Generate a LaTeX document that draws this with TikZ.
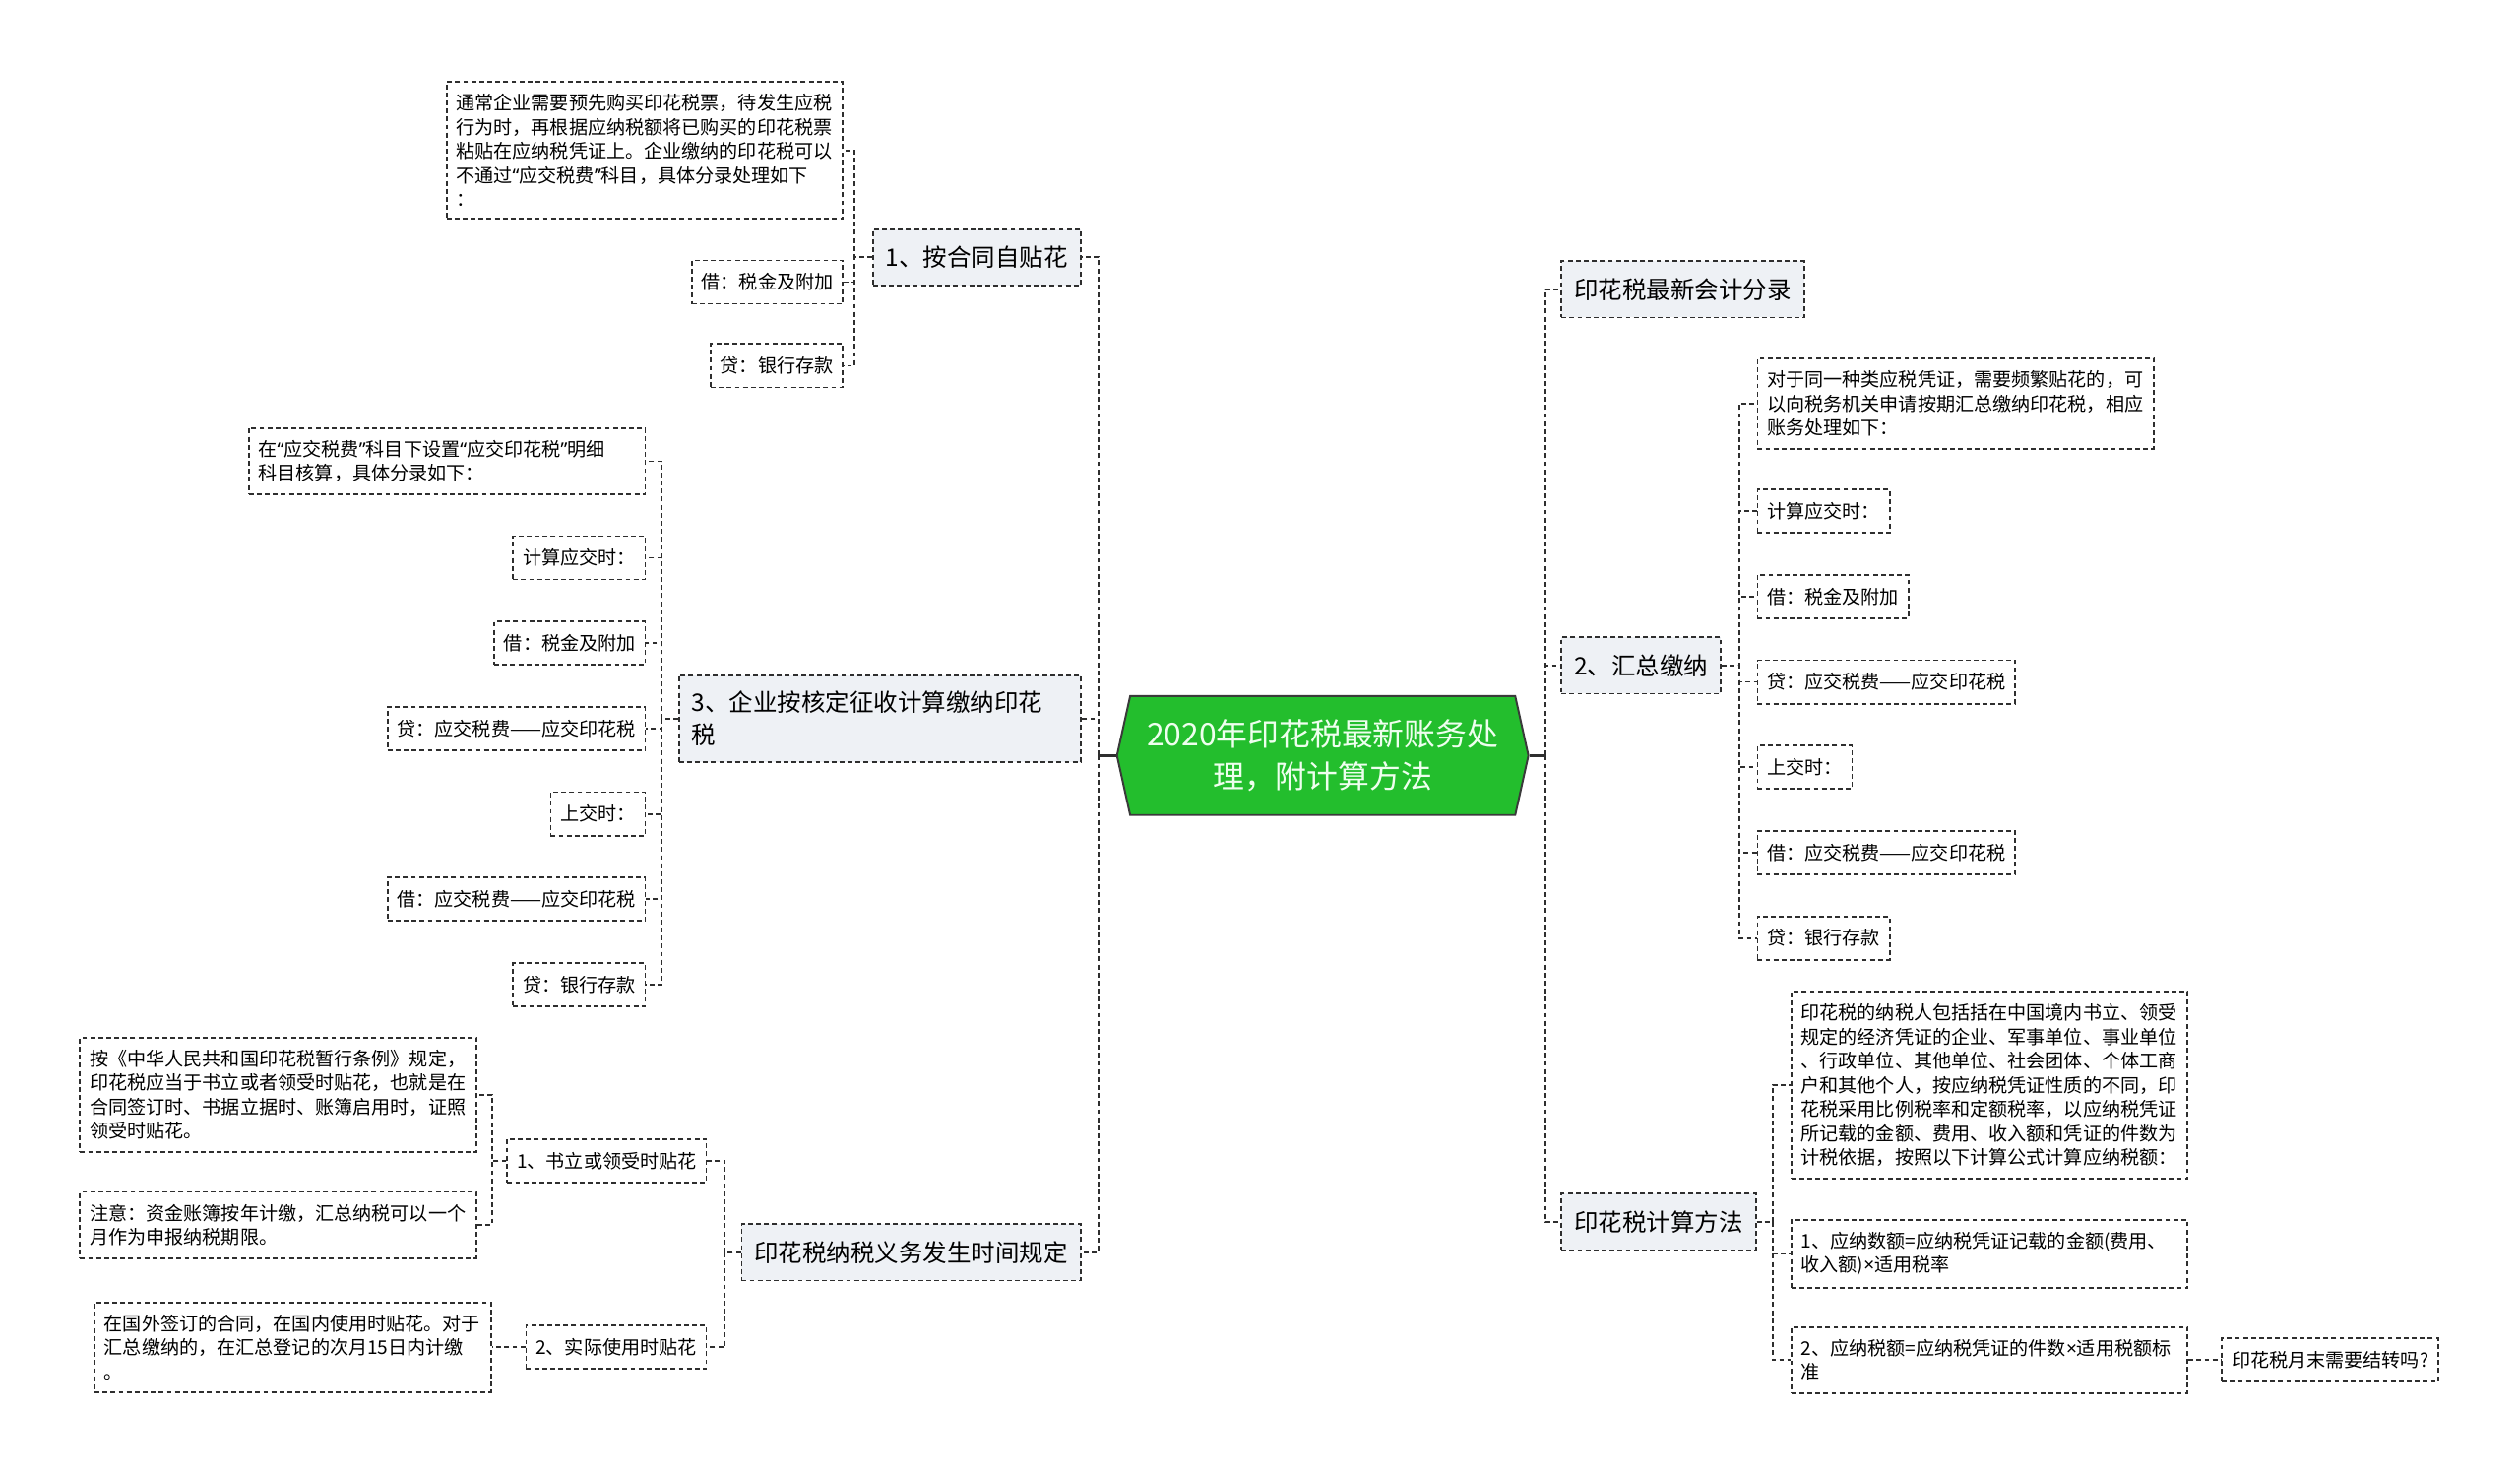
\documentclass[tikz,border=0pt]{standalone}
\usepackage{fontspec}
\setmainfont{Noto Sans CJK SC}
\newfontfamily\latinfont{Noto Sans}
\usetikzlibrary{positioning,shapes.symbols}

\definecolor{linegray}{HTML}{2E2E2E}
\definecolor{topicfill}{HTML}{EEF1F5}
\definecolor{rootfill}{HTML}{23BE2D}
\definecolor{rootedge}{HTML}{3A3A3A}
\definecolor{roottext}{HTML}{EEFFEE}

\newcommand\leafsize{\fontsize{11.7pt}{15pt}\selectfont}
\newcommand\topicsize{\fontsize{15pt}{20pt}\selectfont}
\newcommand\rootsize{\fontsize{19.5pt}{26pt}\selectfont}
\newcommand\oquote{{\latinfont “}}
\newcommand\cquote{{\latinfont ”}}
\newcommand\timessign{{\latinfont ×}}

\tikzset{
    rootnode/.style={
        signal,
        signal to=west and east,
        signal pointer angle=155,
        draw=rootedge,
        line width=1.2pt,
        fill=rootfill,
        text=roottext,
        font=\rootsize,
        align=center,
        minimum width=256pt,
        minimum height=74pt,
        inner sep=0pt
    },
    topic/.style={
        draw=linegray,
        line width=1.1pt,
        dash pattern=on 3pt off 2pt,
        fill=topicfill,
        font=\topicsize,
        align=left,
        inner xsep=8pt,
        inner ysep=10pt,
        minimum height=35pt
    },
    leaf/.style={
        draw=linegray,
        line width=1.1pt,
        dash pattern=on 3pt off 2pt,
        fill=white,
        font=\leafsize,
        inner xsep=6pt,
        inner ysep=7.6pt,
        minimum height=27pt
    },
    note/.style={
        leaf,
        text width=234.6pt,
        align=left
    },
    link/.style={
        draw=linegray,
        line width=1.1pt,
        dash pattern=on 3pt off 2pt
    },
    mainlink/.style={
        link,
        line width=1.4pt
    },
    trunk/.style={
        draw=linegray,
        line width=1.4pt
    }
}

\begin{document}
\begin{tikzpicture}[x=1pt, y=-1pt]

    \useasboundingbox (0,0) rectangle (1568,918);

    \node[rootnode] (stamp) at (823,470) {2020年印花税最新账务处\\理，附计算方法};

    % left side
    \node[topic, anchor=east] (selfstick) at (673,160) {1、按合同自贴花};
    \node[topic, anchor=east, text width=234pt] (assess) at (673,447) {3、企业按核定征收计算缴纳印花\\税};
    \node[topic, anchor=east] (duetime) at (673,779) {印花税纳税义务发生时间规定};

    \node[note, anchor=east] (selfnote) at (525,93.5) {通常企业需要预先购买印花税票，待发生应税\\行为时，再根据应纳税额将已购买的印花税票\\粘贴在应纳税凭证上。企业缴纳的印花税可以\\不通过\oquote 应交税费\cquote 科目，具体分录处理如下\\：};
    \node[leaf, anchor=east] (selfdebit) at (525,175.5) {借：税金及附加};
    \node[leaf, anchor=east] (selfcredit) at (525,227.5) {贷：银行存款};

    \node[note, anchor=east] (assessnote) at (402,287) {在\oquote 应交税费\cquote 科目下设置\oquote 应交印花税\cquote 明细\\科目核算，具体分录如下：};
    \node[leaf, anchor=east] (assesscalc) at (402,347) {计算应交时：};
    \node[leaf, below=25pt of assesscalc.south east, anchor=north east] (assessdebit) {借：税金及附加};
    \node[leaf, below=25pt of assessdebit.south east, anchor=north east] (assesscredit) {贷：应交税费——应交印花税};
    \node[leaf, below=25pt of assesscredit.south east, anchor=north east] (assesspay) {上交时：};
    \node[leaf, below=25pt of assesspay.south east, anchor=north east] (paydebit) {借：应交税费——应交印花税};
    \node[leaf, below=25pt of paydebit.south east, anchor=north east] (paycredit) {贷：银行存款};

    \node[leaf, anchor=east] (signtime) at (440,722) {1、书立或领受时贴花};
    \node[leaf, anchor=east] (usetime) at (440,838) {2、实际使用时贴花};
    \node[note, anchor=east] (signrule) at (297,681) {按《中华人民共和国印花税暂行条例》规定，\\印花税应当于书立或者领受时贴花，也就是在\\合同签订时、书据立据时、账簿启用时，证照\\领受时贴花。};
    \node[note, anchor=east] (signhint) at (297,762) {注意：资金账簿按年计缴，汇总纳税可以一个\\月作为申报纳税期限。};
    \node[note, anchor=east] (userule) at (306,838) {在国外签订的合同，在国内使用时贴花。对于\\汇总缴纳的，在汇总登记的次月15日内计缴\\。};

    % right side
    \node[topic, anchor=west] (entry) at (971,180) {印花税最新会计分录};
    \node[topic, anchor=west] (summary) at (971,414) {2、汇总缴纳};
    \node[topic, anchor=west] (method) at (971,760) {印花税计算方法};

    \node[note, anchor=west] (sumnote) at (1093,251) {对于同一种类应税凭证，需要频繁贴花的，可\\以向税务机关申请按期汇总缴纳印花税，相应\\账务处理如下：};
    \node[leaf, anchor=west] (sumcalc) at (1093,318) {计算应交时：};
    \node[leaf, below=25pt of sumcalc.south west, anchor=north west] (sumdebit) {借：税金及附加};
    \node[leaf, below=25pt of sumdebit.south west, anchor=north west] (sumcredit) {贷：应交税费——应交印花税};
    \node[leaf, below=25pt of sumcredit.south west, anchor=north west] (sumpay) {上交时：};
    \node[leaf, below=25pt of sumpay.south west, anchor=north west] (sumpaydebit) {借：应交税费——应交印花税};
    \node[leaf, below=25pt of sumpaydebit.south west, anchor=north west] (sumpaycredit) {贷：银行存款};

    \node[note, anchor=west] (taxpayer) at (1114,675) {印花税的纳税人包括括在中国境内书立、领受\\规定的经济凭证的企业、军事单位、事业单位\\、行政单位、其他单位、社会团体、个体工商\\户和其他个人，按应纳税凭证性质的不同，印\\花税采用比例税率和定额税率，以应纳税凭证\\所记载的金额、费用、收入额和凭证的件数为\\计税依据，按照以下计算公式计算应纳税额：};
    \node[note, anchor=west] (rateformula) at (1114,780) {1、应纳数额=应纳税凭证记载的金额(费用、\\收入额)\timessign 适用税率};
    \node[note, anchor=west] (countformula) at (1114,846) {2、应纳税额=应纳税凭证的件数\timessign 适用税额标\\准};
    \node[leaf, anchor=west] (monthend) at (1382,846) {印花税月末需要结转吗?};

    % connectors
    \draw[trunk] (stamp.west) -- ++(-11,0) coordinate (lhub);
    \draw[trunk] (stamp.east) -- ++(10,0) coordinate (rhub);

    \draw[mainlink] (lhub) |- (selfstick.east);
    \draw[mainlink] (lhub) |- (assess.east);
    \draw[mainlink] (lhub) |- (duetime.east);

    \draw[link] (selfstick.west) -- ++(-11,0) |- (selfnote.east);
    \draw[link] (selfstick.west) -- ++(-11,0) |- (selfdebit.east);
    \draw[link] (selfstick.west) -- ++(-11,0) |- (selfcredit.east);

    \draw[link] (assess.west) -- ++(-10,0) |- (assessnote.east);
    \draw[link] (assess.west) -- ++(-10,0) |- (assesscalc.east);
    \draw[link] (assess.west) -- ++(-10,0) |- (assessdebit.east);
    \draw[link] (assess.west) -- ++(-10,0) |- (assesscredit.east);
    \draw[link] (assess.west) -- ++(-10,0) |- (assesspay.east);
    \draw[link] (assess.west) -- ++(-10,0) |- (paydebit.east);
    \draw[link] (assess.west) -- ++(-10,0) |- (paycredit.east);

    \draw[link] (duetime.west) -- ++(-10,0) |- (signtime.east);
    \draw[link] (duetime.west) -- ++(-10,0) |- (usetime.east);
    \draw[link] (signtime.west) -- ++(-9,0) |- (signrule.east);
    \draw[link] (signtime.west) -- ++(-9,0) |- (signhint.east);
    \draw[link] (usetime.west) -- (userule.east);

    \draw[mainlink] (rhub) |- (entry.west);
    \draw[mainlink] (rhub) |- (summary.west);
    \draw[mainlink] (rhub) |- (method.west);

    \draw[link] (summary.east) -- ++(11,0) |- (sumnote.west);
    \draw[link] (summary.east) -- ++(11,0) |- (sumcalc.west);
    \draw[link] (summary.east) -- ++(11,0) |- (sumdebit.west);
    \draw[link] (summary.east) -- ++(11,0) |- (sumcredit.west);
    \draw[link] (summary.east) -- ++(11,0) |- (sumpay.west);
    \draw[link] (summary.east) -- ++(11,0) |- (sumpaydebit.west);
    \draw[link] (summary.east) -- ++(11,0) |- (sumpaycredit.west);

    \draw[link] (method.east) -- ++(10,0) |- (taxpayer.west);
    \draw[link] (method.east) -- ++(10,0) |- (rateformula.west);
    \draw[link] (method.east) -- ++(10,0) |- (countformula.west);
    \draw[link] (countformula.east) -- (monthend.west);

\end{tikzpicture}
\end{document}
